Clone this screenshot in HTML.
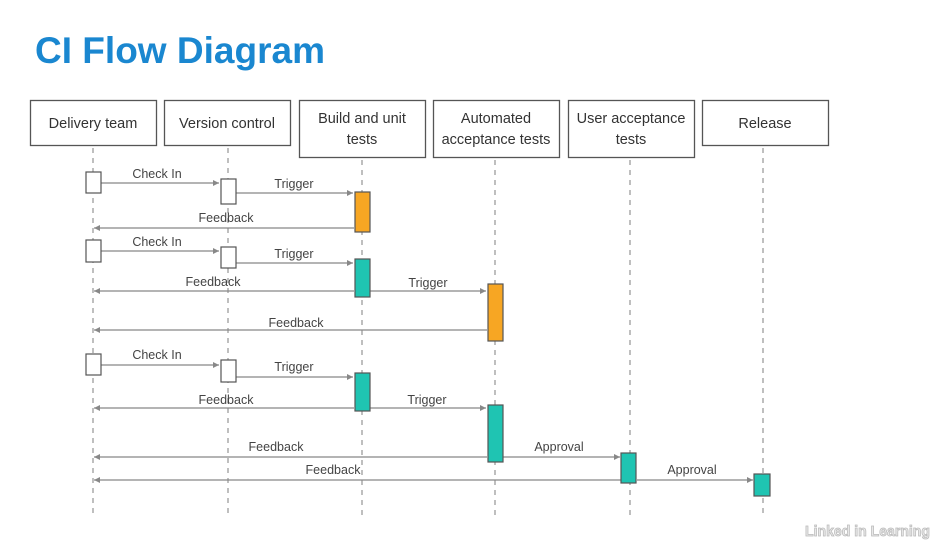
<!DOCTYPE html>
<html><head><style>body{margin:0;background:#fff;}svg{display:block}</style></head><body>
<svg width="940" height="551" viewBox="0 0 940 551" xmlns="http://www.w3.org/2000/svg" font-family="Liberation Sans, sans-serif">
<defs><marker id="a" markerWidth="8" markerHeight="8" refX="6" refY="3" orient="auto" markerUnits="userSpaceOnUse"><path d="M0,0 L6,3 L0,6 z" fill="#888"/></marker></defs>
<text x="35" y="63" font-size="37" font-weight="bold" fill="#1a87d0" textLength="290" lengthAdjust="spacingAndGlyphs">CI Flow Diagram</text>
<g fill="#fff" stroke="#555" stroke-width="1.3">
<rect x="30.5" y="100.5" width="126" height="45"/>
<rect x="164.5" y="100.5" width="126" height="45"/>
<rect x="299.5" y="100.5" width="126" height="57"/>
<rect x="433.5" y="100.5" width="126" height="57"/>
<rect x="568.5" y="100.5" width="126" height="57"/>
<rect x="702.5" y="100.5" width="126" height="45"/>
</g>
<g font-size="14.5" fill="#333" text-anchor="middle">
<text x="93" y="128">Delivery team</text>
<text x="227" y="128">Version control</text>
<text x="362" y="123">Build and unit</text><text x="362" y="144">tests</text>
<text x="496" y="123">Automated</text><text x="496" y="144">acceptance tests</text>
<text x="631" y="123">User acceptance</text><text x="631" y="144">tests</text>
<text x="765" y="128">Release</text>
</g>
<g stroke="#aaa" stroke-width="1.5" stroke-dasharray="5,5">
<line x1="93" y1="148" x2="93" y2="515"/>
<line x1="228" y1="148" x2="228" y2="515"/>
<line x1="362" y1="160" x2="362" y2="515"/>
<line x1="495" y1="160" x2="495" y2="515"/>
<line x1="630" y1="160" x2="630" y2="515"/>
<line x1="763" y1="148" x2="763" y2="515"/>
</g>
<g stroke="#888" stroke-width="1.2" marker-end="url(#a)">
<line x1="101" y1="183" x2="219" y2="183"/>
<line x1="236" y1="193" x2="353" y2="193"/>
<line x1="354" y1="228" x2="94" y2="228"/>
<line x1="101" y1="251" x2="219" y2="251"/>
<line x1="236" y1="263" x2="353" y2="263"/>
<line x1="354" y1="291" x2="94" y2="291"/>
<line x1="370" y1="291" x2="486" y2="291"/>
<line x1="487" y1="330" x2="94" y2="330"/>
<line x1="101" y1="365" x2="219" y2="365"/>
<line x1="236" y1="377" x2="353" y2="377"/>
<line x1="354" y1="408" x2="94" y2="408"/>
<line x1="370" y1="408" x2="486" y2="408"/>
<line x1="487" y1="457" x2="94" y2="457"/>
<line x1="503" y1="457" x2="620" y2="457"/>
<line x1="621" y1="480" x2="94" y2="480"/>
<line x1="637" y1="480" x2="753" y2="480"/>
</g>
<g stroke="#555" stroke-width="1.2">
<g fill="#fff">
<rect x="86" y="172" width="15" height="21"/><rect x="221" y="179" width="15" height="25"/>
<rect x="86" y="240" width="15" height="22"/><rect x="221" y="247" width="15" height="21"/>
<rect x="86" y="354" width="15" height="21"/><rect x="221" y="360" width="15" height="22"/>
</g>
<g fill="#f7a623"><rect x="355" y="192" width="15" height="40"/><rect x="488" y="284" width="15" height="57"/></g>
<g fill="#1fc4b2"><rect x="355" y="259" width="15" height="38"/><rect x="355" y="373" width="15" height="38"/><rect x="488" y="405" width="15" height="57"/><rect x="621" y="453" width="15" height="30"/><rect x="754" y="474" width="16" height="22"/></g>
</g>
<g font-size="12.5" fill="#444" text-anchor="middle">
<text x="157" y="178">Check In</text>
<text x="294" y="188">Trigger</text>
<text x="226" y="222">Feedback</text>
<text x="157" y="246">Check In</text>
<text x="294" y="258">Trigger</text>
<text x="213" y="286">Feedback</text>
<text x="428" y="287">Trigger</text>
<text x="296" y="327">Feedback</text>
<text x="157" y="359">Check In</text>
<text x="294" y="371">Trigger</text>
<text x="226" y="404">Feedback</text>
<text x="427" y="404">Trigger</text>
<text x="276" y="451">Feedback</text>
<text x="559" y="451">Approval</text>
<text x="333" y="474">Feedback</text>
<text x="692" y="474">Approval</text>
</g>
<text x="805" y="536" font-size="15" font-weight="bold" fill="#e8e8e8" stroke="#bbb" stroke-width="0.8" textLength="125" lengthAdjust="spacingAndGlyphs">Linked in Learning</text>
</svg>
</body></html>
